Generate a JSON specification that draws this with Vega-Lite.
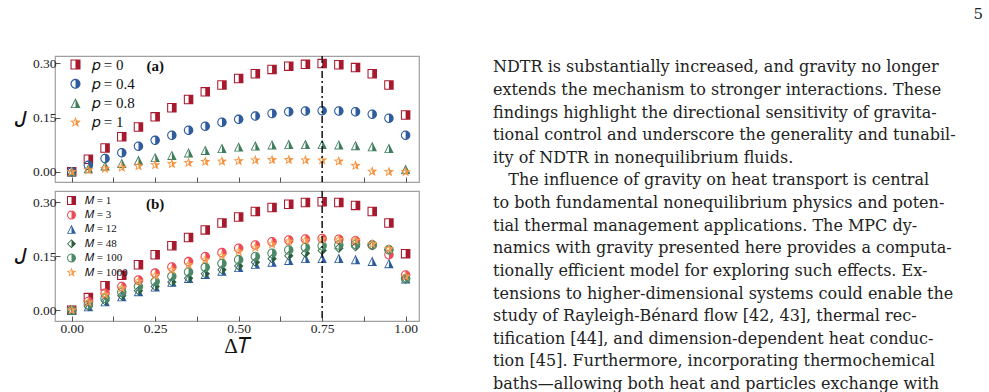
{
 "$schema": "https://vega.github.io/schema/vega-lite/v6.json",
 "background": "white",
 "padding": {"left": 13, "top": 6, "right": 0, "bottom": 0},
 "title": {"text": "5", "anchor": "end", "font": "DejaVu Serif", "fontSize": 15, "fontWeight": "normal", "color": "#222", "offset": 33, "dx": 0},
 "config": {
  "view": {"stroke": "#a0a0a0", "strokeWidth": 1.2},
  "axis": {"grid": false, "domain": false, "tickColor": "#555", "tickSize": -5, "tickWidth": 1, "labelFont": "Liberation Serif", "labelFontSize": 13.5, "labelColor": "#222", "titleFont": "Liberation Serif", "titleColor": "#111", "titleFontWeight": "normal"}
 },
 "datasets": {
  "a": [
   {"x":0,"J":0,"s":"p = 0"},{"x":0.05,"J":0.035,"s":"p = 0"},{"x":0.1,"J":0.066,"s":"p = 0"},{"x":0.15,"J":0.097,"s":"p = 0"},{"x":0.2,"J":0.124,"s":"p = 0"},{"x":0.25,"J":0.152,"s":"p = 0"},{"x":0.3,"J":0.177,"s":"p = 0"},{"x":0.35,"J":0.2,"s":"p = 0"},{"x":0.4,"J":0.221,"s":"p = 0"},{"x":0.45,"J":0.24,"s":"p = 0"},{"x":0.5,"J":0.258,"s":"p = 0"},{"x":0.55,"J":0.271,"s":"p = 0"},{"x":0.6,"J":0.283,"s":"p = 0"},{"x":0.65,"J":0.292,"s":"p = 0"},{"x":0.7,"J":0.297,"s":"p = 0"},{"x":0.75,"J":0.299,"s":"p = 0"},{"x":0.8,"J":0.296,"s":"p = 0"},{"x":0.85,"J":0.288,"s":"p = 0"},{"x":0.9,"J":0.271,"s":"p = 0"},{"x":0.95,"J":0.24,"s":"p = 0"},{"x":1,"J":0.157,"s":"p = 0"},
   {"x":0,"J":0,"s":"p = 0.4"},{"x":0.05,"J":0.018,"s":"p = 0.4"},{"x":0.1,"J":0.037,"s":"p = 0.4"},{"x":0.15,"J":0.053,"s":"p = 0.4"},{"x":0.2,"J":0.071,"s":"p = 0.4"},{"x":0.25,"J":0.087,"s":"p = 0.4"},{"x":0.3,"J":0.101,"s":"p = 0.4"},{"x":0.35,"J":0.115,"s":"p = 0.4"},{"x":0.4,"J":0.126,"s":"p = 0.4"},{"x":0.45,"J":0.137,"s":"p = 0.4"},{"x":0.5,"J":0.145,"s":"p = 0.4"},{"x":0.55,"J":0.154,"s":"p = 0.4"},{"x":0.6,"J":0.161,"s":"p = 0.4"},{"x":0.65,"J":0.166,"s":"p = 0.4"},{"x":0.7,"J":0.168,"s":"p = 0.4"},{"x":0.75,"J":0.169,"s":"p = 0.4"},{"x":0.8,"J":0.168,"s":"p = 0.4"},{"x":0.85,"J":0.166,"s":"p = 0.4"},{"x":0.9,"J":0.159,"s":"p = 0.4"},{"x":0.95,"J":0.148,"s":"p = 0.4"},{"x":1,"J":0.101,"s":"p = 0.4"},
   {"x":0,"J":0,"s":"p = 0.8"},{"x":0.05,"J":0.009,"s":"p = 0.8"},{"x":0.1,"J":0.017,"s":"p = 0.8"},{"x":0.15,"J":0.024,"s":"p = 0.8"},{"x":0.2,"J":0.032,"s":"p = 0.8"},{"x":0.25,"J":0.04,"s":"p = 0.8"},{"x":0.3,"J":0.046,"s":"p = 0.8"},{"x":0.35,"J":0.053,"s":"p = 0.8"},{"x":0.4,"J":0.06,"s":"p = 0.8"},{"x":0.45,"J":0.065,"s":"p = 0.8"},{"x":0.5,"J":0.069,"s":"p = 0.8"},{"x":0.55,"J":0.072,"s":"p = 0.8"},{"x":0.6,"J":0.075,"s":"p = 0.8"},{"x":0.65,"J":0.076,"s":"p = 0.8"},{"x":0.7,"J":0.076,"s":"p = 0.8"},{"x":0.75,"J":0.076,"s":"p = 0.8"},{"x":0.8,"J":0.075,"s":"p = 0.8"},{"x":0.85,"J":0.073,"s":"p = 0.8"},{"x":0.9,"J":0.07,"s":"p = 0.8"},{"x":0.95,"J":0.065,"s":"p = 0.8"},{"x":1,"J":0.007,"s":"p = 0.8"},
   {"x":0,"J":0,"s":"p = 1"},{"x":0.05,"J":0.005,"s":"p = 1"},{"x":0.1,"J":0.009,"s":"p = 1"},{"x":0.15,"J":0.012,"s":"p = 1"},{"x":0.2,"J":0.016,"s":"p = 1"},{"x":0.25,"J":0.019,"s":"p = 1"},{"x":0.3,"J":0.022,"s":"p = 1"},{"x":0.35,"J":0.025,"s":"p = 1"},{"x":0.4,"J":0.028,"s":"p = 1"},{"x":0.45,"J":0.029,"s":"p = 1"},{"x":0.5,"J":0.03,"s":"p = 1"},{"x":0.55,"J":0.032,"s":"p = 1"},{"x":0.6,"J":0.033,"s":"p = 1"},{"x":0.65,"J":0.033,"s":"p = 1"},{"x":0.7,"J":0.032,"s":"p = 1"},{"x":0.75,"J":0.032,"s":"p = 1"},{"x":0.8,"J":0.029,"s":"p = 1"},{"x":0.85,"J":0.017,"s":"p = 1"},{"x":0.9,"J":0.001,"s":"p = 1"},{"x":0.95,"J":0,"s":"p = 1"},{"x":1,"J":0,"s":"p = 1"}
  ],
  "b": [
   {"x":0,"J":0,"s":"M = 1"},{"x":0.05,"J":0.035,"s":"M = 1"},{"x":0.1,"J":0.068,"s":"M = 1"},{"x":0.15,"J":0.097,"s":"M = 1"},{"x":0.2,"J":0.126,"s":"M = 1"},{"x":0.25,"J":0.154,"s":"M = 1"},{"x":0.3,"J":0.179,"s":"M = 1"},{"x":0.35,"J":0.202,"s":"M = 1"},{"x":0.4,"J":0.223,"s":"M = 1"},{"x":0.45,"J":0.242,"s":"M = 1"},{"x":0.5,"J":0.259,"s":"M = 1"},{"x":0.55,"J":0.274,"s":"M = 1"},{"x":0.6,"J":0.285,"s":"M = 1"},{"x":0.65,"J":0.294,"s":"M = 1"},{"x":0.7,"J":0.299,"s":"M = 1"},{"x":0.75,"J":0.301,"s":"M = 1"},{"x":0.8,"J":0.299,"s":"M = 1"},{"x":0.85,"J":0.291,"s":"M = 1"},{"x":0.9,"J":0.274,"s":"M = 1"},{"x":0.95,"J":0.242,"s":"M = 1"},{"x":1,"J":0.157,"s":"M = 1"},
   {"x":0,"J":0,"s":"M = 3"},{"x":0.05,"J":0.024,"s":"M = 3"},{"x":0.1,"J":0.047,"s":"M = 3"},{"x":0.15,"J":0.066,"s":"M = 3"},{"x":0.2,"J":0.084,"s":"M = 3"},{"x":0.25,"J":0.103,"s":"M = 3"},{"x":0.3,"J":0.12,"s":"M = 3"},{"x":0.35,"J":0.135,"s":"M = 3"},{"x":0.4,"J":0.149,"s":"M = 3"},{"x":0.45,"J":0.16,"s":"M = 3"},{"x":0.5,"J":0.172,"s":"M = 3"},{"x":0.55,"J":0.181,"s":"M = 3"},{"x":0.6,"J":0.19,"s":"M = 3"},{"x":0.65,"J":0.195,"s":"M = 3"},{"x":0.7,"J":0.198,"s":"M = 3"},{"x":0.75,"J":0.199,"s":"M = 3"},{"x":0.8,"J":0.197,"s":"M = 3"},{"x":0.85,"J":0.193,"s":"M = 3"},{"x":0.9,"J":0.181,"s":"M = 3"},{"x":0.95,"J":0.154,"s":"M = 3"},{"x":1,"J":0.098,"s":"M = 3"},
   {"x":0,"J":0,"s":"M = 12"},{"x":0.05,"J":0.01,"s":"M = 12"},{"x":0.1,"J":0.024,"s":"M = 12"},{"x":0.15,"J":0.038,"s":"M = 12"},{"x":0.2,"J":0.052,"s":"M = 12"},{"x":0.25,"J":0.065,"s":"M = 12"},{"x":0.3,"J":0.078,"s":"M = 12"},{"x":0.35,"J":0.089,"s":"M = 12"},{"x":0.4,"J":0.1,"s":"M = 12"},{"x":0.45,"J":0.109,"s":"M = 12"},{"x":0.5,"J":0.119,"s":"M = 12"},{"x":0.55,"J":0.128,"s":"M = 12"},{"x":0.6,"J":0.134,"s":"M = 12"},{"x":0.65,"J":0.139,"s":"M = 12"},{"x":0.7,"J":0.144,"s":"M = 12"},{"x":0.75,"J":0.144,"s":"M = 12"},{"x":0.8,"J":0.144,"s":"M = 12"},{"x":0.85,"J":0.141,"s":"M = 12"},{"x":0.9,"J":0.136,"s":"M = 12"},{"x":0.95,"J":0.13,"s":"M = 12"},{"x":1,"J":0.087,"s":"M = 12"},
   {"x":0,"J":0,"s":"M = 48"},{"x":0.05,"J":0.01,"s":"M = 48"},{"x":0.1,"J":0.026,"s":"M = 48"},{"x":0.15,"J":0.04,"s":"M = 48"},{"x":0.2,"J":0.054,"s":"M = 48"},{"x":0.25,"J":0.066,"s":"M = 48"},{"x":0.3,"J":0.078,"s":"M = 48"},{"x":0.35,"J":0.089,"s":"M = 48"},{"x":0.4,"J":0.101,"s":"M = 48"},{"x":0.45,"J":0.112,"s":"M = 48"},{"x":0.5,"J":0.123,"s":"M = 48"},{"x":0.55,"J":0.133,"s":"M = 48"},{"x":0.6,"J":0.143,"s":"M = 48"},{"x":0.65,"J":0.151,"s":"M = 48"},{"x":0.7,"J":0.158,"s":"M = 48"},{"x":0.75,"J":0.166,"s":"M = 48"},{"x":0.8,"J":0.172,"s":"M = 48"},{"x":0.85,"J":0.176,"s":"M = 48"},{"x":0.9,"J":0.179,"s":"M = 48"},{"x":0.95,"J":0.168,"s":"M = 48"},{"x":1,"J":0.087,"s":"M = 48"},
   {"x":0,"J":0,"s":"M = 100"},{"x":0.05,"J":0.015,"s":"M = 100"},{"x":0.1,"J":0.033,"s":"M = 100"},{"x":0.15,"J":0.05,"s":"M = 100"},{"x":0.2,"J":0.066,"s":"M = 100"},{"x":0.25,"J":0.08,"s":"M = 100"},{"x":0.3,"J":0.094,"s":"M = 100"},{"x":0.35,"J":0.106,"s":"M = 100"},{"x":0.4,"J":0.119,"s":"M = 100"},{"x":0.45,"J":0.13,"s":"M = 100"},{"x":0.5,"J":0.14,"s":"M = 100"},{"x":0.55,"J":0.149,"s":"M = 100"},{"x":0.6,"J":0.158,"s":"M = 100"},{"x":0.65,"J":0.167,"s":"M = 100"},{"x":0.7,"J":0.174,"s":"M = 100"},{"x":0.75,"J":0.179,"s":"M = 100"},{"x":0.8,"J":0.181,"s":"M = 100"},{"x":0.85,"J":0.183,"s":"M = 100"},{"x":0.9,"J":0.181,"s":"M = 100"},{"x":0.95,"J":0.168,"s":"M = 100"},{"x":1,"J":0.087,"s":"M = 100"},
   {"x":0,"J":0,"s":"M = 1000"},{"x":0.05,"J":0.022,"s":"M = 1000"},{"x":0.1,"J":0.043,"s":"M = 1000"},{"x":0.15,"J":0.061,"s":"M = 1000"},{"x":0.2,"J":0.08,"s":"M = 1000"},{"x":0.25,"J":0.096,"s":"M = 1000"},{"x":0.3,"J":0.112,"s":"M = 1000"},{"x":0.35,"J":0.126,"s":"M = 1000"},{"x":0.4,"J":0.14,"s":"M = 1000"},{"x":0.45,"J":0.151,"s":"M = 1000"},{"x":0.5,"J":0.163,"s":"M = 1000"},{"x":0.55,"J":0.174,"s":"M = 1000"},{"x":0.6,"J":0.183,"s":"M = 1000"},{"x":0.65,"J":0.191,"s":"M = 1000"},{"x":0.7,"J":0.194,"s":"M = 1000"},{"x":0.75,"J":0.197,"s":"M = 1000"},{"x":0.8,"J":0.196,"s":"M = 1000"},{"x":0.85,"J":0.194,"s":"M = 1000"},{"x":0.9,"J":0.184,"s":"M = 1000"},{"x":0.95,"J":0.17,"s":"M = 1000"},{"x":1,"J":0.094,"s":"M = 1000"}
  ],
  "txt": [
   {"line":0,"text":"NDTR is substantially increased, and gravity no longer"},
   {"line":1,"text":"extends the mechanism to stronger interactions.  These"},
   {"line":2,"text":"findings highlight the directional sensitivity of gravita-"},
   {"line":3,"text":"tional control and underscore the generality and tunabil-"},
   {"line":4,"text":"ity of NDTR in nonequilibrium fluids."},
   {"line":5,"text":"\u200b\u00a0\u00a0\u00a0The influence of gravity on heat transport is central"},
   {"line":6,"text":"to both fundamental nonequilibrium physics and poten-"},
   {"line":7,"text":"tial thermal management applications.  The MPC dy-"},
   {"line":8,"text":"namics with gravity presented here provides a computa-"},
   {"line":9,"text":"tionally efficient model for exploring such effects.  Ex-"},
   {"line":10,"text":"tensions to higher-dimensional systems could enable the"},
   {"line":11,"text":"study of Rayleigh-Bénard flow [42, 43], thermal rec-"},
   {"line":12,"text":"tification [44], and dimension-dependent heat conduc-"},
   {"line":13,"text":"tion [45].  Furthermore, incorporating thermochemical"},
   {"line":14,"text":"baths\u2014allowing both heat and particles exchange with"}
  ]
 },
 "spacing": 73,
 "resolve": {"scale": {"color": "independent", "shape": "independent"}, "legend": {"color": "independent", "shape": "independent"}},
 "hconcat": [
  {
   "spacing": 5,
   "resolve": {"scale": {"color": "independent", "shape": "independent"}, "legend": {"color": "independent", "shape": "independent"}},
   "vconcat": [
    {
     "width": 364, "height": 126,
     "layer": [
      {
       "data": {"name": "a"},
       "mark": {"type": "point", "filled": true, "size": 90, "opacity": 1, "strokeWidth": 0},
       "encoding": {
        "x": {"field": "x", "type": "quantitative", "scale": {"domain": [-0.05, 1.04], "nice": false, "zero": false},
              "axis": {"values": [0, 0.125, 0.25, 0.375, 0.5, 0.625, 0.75, 0.875, 1], "labels": false, "title": null}},
        "y": {"field": "J", "type": "quantitative", "scale": {"domain": [-0.028, 0.32], "nice": false, "zero": false},
              "axis": {"values": [0, 0.075, 0.15, 0.225, 0.3], "labelExpr": "datum.value == 0 || datum.value == 0.15 || datum.value == 0.3 ? format(datum.value, '.2f') : ''", "labelPadding": 4, "title": "\ud835\udc3d", "titleAngle": 0, "titleFontSize": 22, "titlePadding": 12, "titleBaseline": "middle", "titleAlign": "center"}},
        "color": {"field": "s", "type": "nominal",
                  "scale": {"domain": ["p = 0", "p = 0.4", "p = 0.8", "p = 1"], "range": ["#a8192d", "#2e5c9c", "#3d7d5c", "#f5923e"]},
                  "legend": {"orient": "none", "legendX": 13, "legendY": 1, "title": null, "symbolSize": 100, "symbolStrokeWidth": 0, "labelFont": "Liberation Serif", "labelFontSize": 15, "labelColor": "#111", "labelOffset": 9, "rowPadding": 3.3, "padding": 0, "labelExpr": "replace(datum.label, 'p', '\ud835\udc5d')"}},
        "shape": {"field": "s", "type": "nominal",
                  "scale": {"domain": ["p = 0", "p = 0.4", "p = 0.8", "p = 1"], "range": [
                    "M-1,-1H1V1H-1ZM-0.78,-0.78V0.78H0.78V-0.78ZM0,-1H1V1H0Z",
                    "M0,-1A1,1 0 1,1 0,1A1,1 0 1,1 0,-1ZM0,-0.78A0.78,0.78 0 1,0 0,0.78A0.78,0.78 0 1,0 0,-0.78ZM0,-1A1,1 0 0,1 0,1Z",
                    "M0,-1L1,1H-1ZM0,-0.6L-0.71,0.82H0.71ZM0,-1L1,1H0Z",
                    "M0,-1.15L0.284,-0.391L1.094,-0.355L0.459,0.15L0.676,0.93L0,0.483L-0.676,0.93L-0.459,0.15L-1.094,-0.355L-0.284,-0.391ZM0,-0.633L-0.156,-0.215L-0.601,-0.196L-0.252,0.083L-0.371,0.512L0,0.266L0.371,0.512L0.252,0.083L0.601,-0.196L0.156,-0.215ZM0,-1.15L0.284,-0.391L1.094,-0.355L0.459,0.15L0.676,0.93L0,0.483Z"]},
                  "legend": {"orient": "none", "legendX": 13, "legendY": 1, "title": null, "symbolSize": 100, "symbolStrokeWidth": 0, "labelFont": "Liberation Serif", "labelFontSize": 15, "labelColor": "#111", "labelOffset": 9, "rowPadding": 3.3, "padding": 0, "labelExpr": "replace(datum.label, 'p', '\ud835\udc5d')"}}
       }
      },
      {
       "data": {"values": [{}]},
       "mark": {"type": "rule", "strokeDash": [7, 3, 2, 3], "strokeWidth": 1.5, "color": "#111"},
       "encoding": {"x": {"datum": 0.75}}
      },
      {
       "data": {"values": [{}]},
       "mark": {"type": "text", "font": "Liberation Serif", "fontWeight": "bold", "fontSize": 15, "color": "#111"},
       "encoding": {"x": {"datum": 0.25}, "y": {"datum": 0.292}, "text": {"value": "(a)"}}
      }
     ]
    },
    {
     "width": 364, "height": 130,
     "layer": [
      {
       "data": {"name": "b"},
       "mark": {"type": "point", "filled": true, "size": 90, "opacity": 1, "strokeWidth": 0},
       "encoding": {
        "x": {"field": "x", "type": "quantitative", "scale": {"domain": [-0.05, 1.04], "nice": false, "zero": false},
              "axis": {"values": [0, 0.125, 0.25, 0.375, 0.5, 0.625, 0.75, 0.875, 1], "labelExpr": "datum.value == 0 || datum.value == 0.25 || datum.value == 0.5 || datum.value == 0.75 || datum.value == 1 ? format(datum.value, '.2f') : ''", "labelPadding": 5, "title": "\u0394\ud835\udc47", "titleFontSize": 21, "titlePadding": 1}},
        "y": {"field": "J", "type": "quantitative", "scale": {"domain": [-0.03, 0.331], "nice": false, "zero": false},
              "axis": {"values": [0, 0.075, 0.15, 0.225, 0.3], "labelExpr": "datum.value == 0 || datum.value == 0.15 || datum.value == 0.3 ? format(datum.value, '.2f') : ''", "labelPadding": 4, "title": "\ud835\udc3d", "titleAngle": 0, "titleFontSize": 22, "titlePadding": 12, "titleBaseline": "middle", "titleAlign": "center"}},
        "color": {"field": "s", "type": "nominal",
                  "scale": {"domain": ["M = 1", "M = 3", "M = 12", "M = 48", "M = 100", "M = 1000"], "range": ["#a8192d", "#ec4a5a", "#2b5c9e", "#2a5e3a", "#4a8a66", "#f79a4a"]},
                  "legend": {"orient": "none", "legendX": 11, "legendY": 4, "title": null, "symbolSize": 81, "symbolStrokeWidth": 0, "labelFont": "Liberation Serif", "labelFontSize": 11, "labelColor": "#111", "labelOffset": 8, "rowPadding": 2.4, "padding": 0, "labelExpr": "replace(datum.label, 'M', '\ud835\udc40')"}},
        "shape": {"field": "s", "type": "nominal",
                  "scale": {"domain": ["M = 1", "M = 3", "M = 12", "M = 48", "M = 100", "M = 1000"], "range": [
                    "M-1,-1H1V1H-1ZM-0.78,-0.78V0.78H0.78V-0.78ZM0,-1H1V1H0Z",
                    "M0,-1A1,1 0 1,1 0,1A1,1 0 1,1 0,-1ZM0,-0.78A0.78,0.78 0 1,0 0,0.78A0.78,0.78 0 1,0 0,-0.78ZM0,-1A1,1 0 0,1 0,1Z",
                    "M0,-1L1,1H-1ZM0,-0.6L-0.71,0.82H0.71ZM0,-1L1,1H0Z",
                    "M0,-1L1,0L0,1L-1,0ZM0,-0.75L-0.75,0L0,0.75L0.75,0ZM0,-1L1,0L0,1Z",
                    "M0,-1A1,1 0 1,1 0,1A1,1 0 1,1 0,-1ZM0,-0.78A0.78,0.78 0 1,0 0,0.78A0.78,0.78 0 1,0 0,-0.78ZM0,-1A1,1 0 0,1 0,1Z",
                    "M0,-1.15L0.284,-0.391L1.094,-0.355L0.459,0.15L0.676,0.93L0,0.483L-0.676,0.93L-0.459,0.15L-1.094,-0.355L-0.284,-0.391ZM0,-0.633L-0.156,-0.215L-0.601,-0.196L-0.252,0.083L-0.371,0.512L0,0.266L0.371,0.512L0.252,0.083L0.601,-0.196L0.156,-0.215ZM0,-1.15L0.284,-0.391L1.094,-0.355L0.459,0.15L0.676,0.93L0,0.483Z"]},
                  "legend": {"orient": "none", "legendX": 11, "legendY": 4, "title": null, "symbolSize": 81, "symbolStrokeWidth": 0, "labelFont": "Liberation Serif", "labelFontSize": 11, "labelColor": "#111", "labelOffset": 8, "rowPadding": 2.4, "padding": 0, "labelExpr": "replace(datum.label, 'M', '\ud835\udc40')"}}
       }
      },
      {
       "data": {"values": [{}]},
       "mark": {"type": "rule", "strokeDash": [7, 3, 2, 3], "strokeWidth": 1.5, "color": "#111"},
       "encoding": {"x": {"datum": 0.75}}
      },
      {
       "data": {"values": [{}]},
       "mark": {"type": "text", "font": "Liberation Serif", "fontWeight": "bold", "fontSize": 15, "color": "#111"},
       "encoding": {"x": {"datum": 0.25}, "y": {"datum": 0.295}, "text": {"value": "(b)"}}
      }
     ]
    }
   ]
  },
  {
   "width": 490, "height": 335,
   "view": {"stroke": null},
   "data": {"name": "txt"},
   "mark": {"type": "text", "align": "left", "baseline": "middle", "font": "DejaVu Serif", "fontSize": 16, "color": "#222"},
   "encoding": {
    "x": {"value": 0},
    "y": {"field": "line", "type": "quantitative", "scale": {"domain": [-0.5, 14.31], "reverse": true, "nice": false, "zero": false}, "axis": null},
    "text": {"field": "text"}
   }
  }
 ]
}
